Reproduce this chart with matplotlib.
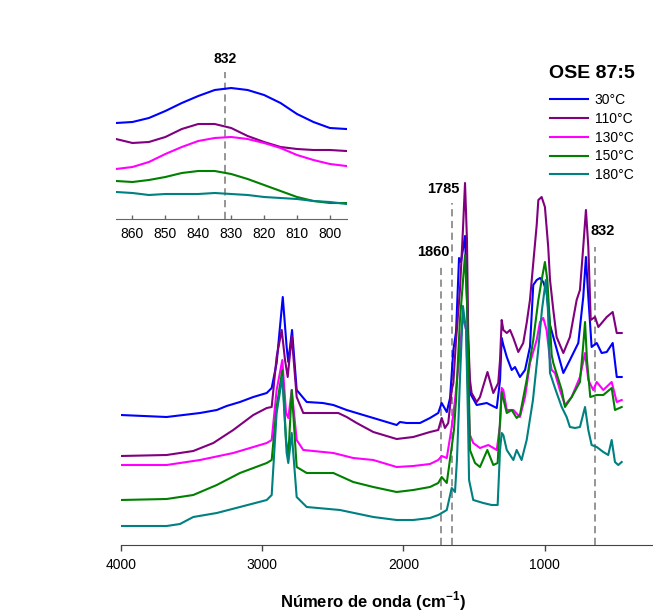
import matplotlib
matplotlib.use("Agg")
import matplotlib.pyplot as plt

plt.rcParams['font.family'] = ['Liberation Sans', 'DejaVu Sans']
plt.rcParams['mathtext.fontset'] = 'custom'
plt.rcParams['mathtext.rm'] = 'Liberation Sans'
plt.rcParams['mathtext.bf'] = 'Liberation Sans:bold'

# FTIR spectra (offset, arbitrary units) at each temperature
wn_30 = [4000, 3693, 3470, 3358, 3292, 3203, 3114, 3024, 2991, 2958, 2917, 2891, 2880, 2855, 2824, 2757, 2650, 2579,
         2490, 2379, 2267, 2156, 2134, 2089, 2000, 1933, 1878, 1855, 1821, 1799, 1777, 1759, 1739, 1726, 1699, 1686,
         1672, 1666, 1621, 1554, 1487, 1465, 1454, 1443, 1420, 1387, 1365, 1332, 1298, 1265, 1243, 1220, 1198,
         1176, 1154, 1131, 1098, 1042, 998, 942, 909, 891, 875, 853, 819, 786, 752, 712, 685, 652]
abs_30 = [1.30, 1.28, 1.32, 1.35, 1.39, 1.43, 1.48, 1.52, 1.57, 1.82, 2.48, 1.98, 1.83, 2.15, 1.55, 1.43, 1.42, 1.40,
          1.35, 1.30, 1.25, 1.20, 1.23, 1.22, 1.22, 1.27, 1.32, 1.42, 1.33, 1.47, 1.95, 2.13, 2.87, 2.83, 3.09, 2.45,
          1.75, 1.52, 1.40, 1.42, 1.37, 1.65, 2.07, 2.00, 1.88, 1.75, 1.78, 1.68, 1.75, 1.98, 2.60, 2.65, 2.67,
          2.63, 2.53, 2.20, 2.02, 1.72, 1.85, 2.02, 2.48, 2.88, 2.48, 1.98, 2.02, 1.92, 1.93, 2.02, 1.68, 1.68]

wn_110 = [4000, 3693, 3515, 3381, 3248, 3114, 3024, 2991, 2958, 2924, 2902, 2884, 2857, 2824, 2780, 2546, 2490,
          2423, 2312, 2156, 2045, 1933, 1878, 1855, 1833, 1811, 1788, 1777, 1759, 1733, 1713, 1699, 1686, 1677,
          1666, 1655, 1621, 1599, 1549, 1510, 1477, 1465, 1454, 1443, 1420, 1398, 1376, 1343, 1310, 1287, 1265,
          1243, 1220, 1209, 1187, 1165, 1143, 1131, 1109, 1087, 1042, 998, 953, 931, 909, 891, 875, 859, 830,
          808, 752, 712, 685, 652]
abs_110 = [0.89, 0.90, 0.94, 1.02, 1.15, 1.30, 1.37, 1.38, 1.88, 2.15, 1.85, 1.68, 2.09, 1.48, 1.32, 1.32, 1.28,
           1.22, 1.13, 1.06, 1.08, 1.13, 1.15, 1.27, 1.17, 1.22, 1.55, 1.62, 2.05, 2.55, 3.15, 3.62, 3.05, 2.05,
           1.65, 1.52, 1.43, 1.48, 1.73, 1.52, 1.62, 1.85, 2.25, 2.15, 2.12, 2.15, 2.07, 1.93, 2.02, 2.22, 2.45,
           2.82, 3.20, 3.45, 3.48, 3.38, 2.98, 2.65, 2.35, 2.08, 1.92, 2.08, 2.45, 2.55, 2.98, 3.35, 2.98, 2.25, 2.28,
           2.18, 2.28, 2.33, 2.12, 2.12]

wn_130 = [4000, 3693, 3470, 3248, 3024, 2991, 2958, 2920, 2895, 2880, 2857, 2824, 2780, 2579, 2446, 2312, 2156,
          2045, 1933, 1878, 1855, 1821, 1788, 1766, 1739, 1713, 1692, 1677, 1666, 1644, 1599, 1543, 1487, 1465,
          1454, 1443, 1420, 1376, 1332, 1298, 1265, 1220, 1198, 1176, 1154, 1131, 1120, 1098, 1065, 1031, 986,
          931, 897, 875, 842, 819, 775, 719, 685, 652]
abs_130 = [0.80, 0.80, 0.85, 0.92, 1.02, 1.05, 1.55, 1.85, 1.32, 1.27, 1.55, 1.05, 0.95, 0.92, 0.87, 0.85, 0.78,
           0.79, 0.81, 0.85, 0.89, 0.87, 1.18, 1.45, 1.85, 2.29, 2.15, 1.45, 1.10, 1.02, 0.97, 1.00, 0.95, 1.20,
           1.57, 1.55, 1.35, 1.35, 1.28, 1.48, 1.82, 2.05, 2.23, 2.27, 2.15, 1.85, 1.75, 1.72, 1.55, 1.40, 1.48,
           1.68, 1.92, 1.65, 1.55, 1.63, 1.55, 1.63, 1.43, 1.45]

wn_150 = [4000, 3693, 3515, 3358, 3203, 3024, 2991, 2958, 2920, 2895, 2880, 2857, 2824, 2757, 2579, 2446, 2312,
          2156, 2045, 1933, 1878, 1855, 1821, 1788, 1773, 1759, 1733, 1699, 1686, 1672, 1666, 1632, 1599, 1550,
          1510, 1481, 1454, 1420, 1387, 1354, 1332, 1287, 1243, 1209, 1187, 1165, 1149, 1136, 1120, 1109, 1053,
          1031, 986, 931, 909, 897, 884, 862, 819, 775, 719, 697, 652]
abs_150 = [0.45, 0.46, 0.50, 0.60, 0.72, 0.82, 0.85, 1.38, 1.75, 1.05, 0.88, 1.55, 0.78, 0.72, 0.72, 0.63, 0.58,
           0.53, 0.55, 0.58, 0.62, 0.68, 0.62, 0.98, 1.15, 1.45, 2.25, 2.90, 2.45, 1.45, 0.95, 0.82, 0.78, 0.95,
           0.80, 0.82, 1.53, 1.32, 1.35, 1.27, 1.30, 1.65, 2.05, 2.45, 2.65, 2.83, 2.65, 2.32, 1.90, 1.82, 1.55,
           1.38, 1.48, 1.63, 2.00, 2.23, 1.85, 1.48, 1.50, 1.50, 1.57, 1.35, 1.38]

wn_180 = [4000, 3693, 3604, 3515, 3358, 3203, 3024, 2991, 2958, 2920, 2891, 2880, 2857, 2824, 2757, 2535, 2312,
          2156, 2045, 1933, 1878, 1855, 1821, 1788, 1766, 1753, 1733, 1713, 1692, 1679, 1672, 1644, 1577, 1521,
          1481, 1465, 1454, 1443, 1420, 1376, 1354, 1321, 1287, 1245, 1210, 1185, 1159, 1145, 1131, 1098, 1053,
          1020, 998, 964, 931, 897, 875, 853, 819, 775, 742, 719, 697, 675, 652]
abs_180 = [0.19, 0.19, 0.21, 0.28, 0.32, 0.38, 0.45, 0.50, 1.32, 1.68, 0.92, 0.82, 1.12, 0.48, 0.38, 0.35, 0.28,
           0.25, 0.25, 0.27, 0.30, 0.32, 0.35, 0.57, 0.53, 0.85, 1.65, 2.39, 2.15, 1.25, 0.65, 0.45, 0.42, 0.40,
           0.40, 0.95, 1.12, 1.10, 0.95, 0.85, 0.95, 0.85, 1.05, 1.45, 1.95, 2.35, 2.65, 2.35, 1.72, 1.57, 1.38,
           1.28, 1.18, 1.17, 1.18, 1.38, 1.15, 1.00, 0.98, 0.93, 0.90, 1.05, 0.83, 0.80, 0.83]

# zoom on the 832 cm-1 band
inset_wn = [865, 860, 855, 850, 845, 840, 835, 830, 825, 820, 815, 810, 805, 800, 795]
inset_30 = [0.96, 0.97, 1.01, 1.08, 1.16, 1.23, 1.29, 1.31, 1.29, 1.24, 1.16, 1.05, 0.97, 0.91, 0.90]
inset_110 = [0.80, 0.76, 0.77, 0.82, 0.90, 0.95, 0.95, 0.91, 0.83, 0.77, 0.72, 0.70, 0.69, 0.69, 0.68]
inset_130 = [0.50, 0.52, 0.57, 0.65, 0.72, 0.78, 0.81, 0.82, 0.80, 0.76, 0.71, 0.64, 0.59, 0.55, 0.53]
inset_150 = [0.38, 0.37, 0.39, 0.42, 0.46, 0.48, 0.48, 0.45, 0.40, 0.34, 0.28, 0.22, 0.18, 0.16, 0.16]
inset_180 = [0.27, 0.26, 0.24, 0.25, 0.25, 0.25, 0.26, 0.25, 0.24, 0.22, 0.21, 0.20, 0.18, 0.17, 0.15]

labels = ["30°C", "110°C", "130°C", "150°C", "180°C"]
colors = ["#0000ff", "#800080", "#ff00ff", "#008000", "#008080"]
marked_bands = [1860, 1785, 832]

fig = plt.figure(figsize=(6.53, 6.12), dpi=100)
box = [120.7 / 653, 67 / 612, 532.3 / 653, 505 / 612]

# axis carrying the wavenumber scale
ax_scale = fig.add_axes(box)
ax_scale.set_xlim(4000, 235.5)
ax_scale.set_ylim(0, 1)
ax_scale.set_xticks([4000, 3000, 2000, 1000])
ax_scale.set_yticks([])
for side in ["top", "right", "left"]:
    ax_scale.spines[side].set_visible(False)
ax_scale.spines["bottom"].set_color("#444444")
ax_scale.tick_params(axis="x", direction="out", length=4.5, width=1, color="#444444", labelsize=10, pad=5)

# spectra
ax = fig.add_axes(box)
ax.set_xlim(4000, 442.8)
ax.set_ylim(0, 5.05)
ax.axis("off")
series = [(wn_30, abs_30), (wn_110, abs_110), (wn_130, abs_130), (wn_150, abs_150), (wn_180, abs_180)]
handles = []
for (x, y), lab, col in zip(series, labels, colors):
    line, = ax.plot(x, y, color=col, lw=1.5, label=lab, solid_joinstyle="round")
    handles.append(line)

dash = (0, (4, 2.5))
ax.vlines(marked_bands, 0, [2.80, 3.42, 2.98], colors="#8c8c8c", linestyles=dash, lw=1.3, zorder=1)
ax.text(1913, 2.93, "1860", ha="center", va="center", fontsize=10.5, fontweight="bold")
ax.text(1846, 3.56, "1785", ha="center", va="center", fontsize=10.5, fontweight="bold")
ax.text(780, 3.14, "832", ha="center", va="center", fontsize=10.5, fontweight="bold")

# inset
ax_in = fig.add_axes([116 / 653, 393 / 612, 231 / 653, 147 / 612])
ax_in.patch.set_alpha(0)
inset_series = [inset_30, inset_110, inset_130, inset_150, inset_180]
for y, col in zip(inset_series, colors):
    ax_in.plot(inset_wn, y, color=col, lw=1.5, solid_joinstyle="round")
ax_in.set_xlim(865, 794.8)
ax_in.set_ylim(0, 1.47)
ax_in.set_xticks([860, 850, 840, 830, 820, 810, 800])
ax_in.set_yticks([])
for side in ["top", "right", "left"]:
    ax_in.spines[side].set_visible(False)
ax_in.spines["bottom"].set_color("#666666")
ax_in.tick_params(axis="x", direction="in", length=3, width=1, color="#666666", labelsize=10, pad=6)
ax_in.axvline(832, color="#8c8c8c", ls=dash, lw=1.3, zorder=1)
ax_in.text(832, 1.60, "832", ha="center", va="center", fontsize=10, fontweight="bold", clip_on=False)

# legend with its title placed above the entries
fig.text(592 / 653, 1 - 73 / 612, "OSE 87:5", ha="center", va="center", fontsize=14, fontweight="bold")
fig.legend(handles, labels, loc="upper center", bbox_to_anchor=(592 / 653, 1 - 93 / 612), frameon=False,
           fontsize=10, handlelength=2.7, handletextpad=0.5, labelspacing=0.345, borderaxespad=0, borderpad=0)

fig.text(373 / 653, 1 - 600.7 / 612, r"Número de onda (cm$^{\mathbf{-1}}$)", ha="center", va="center",
         fontsize=12, fontweight="bold")

fig.savefig("out.png", dpi=100)
